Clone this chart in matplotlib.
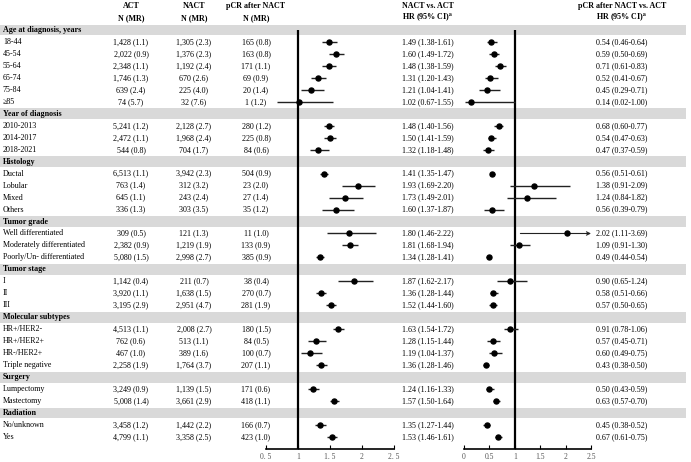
import matplotlib.pyplot as plt

plt.rcParams['font.family'] = ['Liberation Serif', 'DejaVu Serif']
plt.rcParams['mathtext.fontset'] = 'stix'

# ---- data ----
groups = ['Age at diagnosis, years', 'Year of diagnosis', 'Histology', 'Tumor grade',
          'Tumor stage', 'Molecular subtypes', 'Surgery', 'Radiation']
subgroups = [
    ['18-44', '45-54', '55-64', '65-74', '75-84', '\u226585'],
    ['2010-2013', '2014-2017', '2018-2021'],
    ['Ductal', 'Lobular', 'Mixed', 'Others'],
    ['Well differentiated', 'Moderately differentiated', 'Poorly/Un- differentiated'],
    ['I', 'II', 'III'],
    ['HR+/HER2-', 'HR+/HER2+', 'HR-/HER2+', 'Triple negative'],
    ['Lumpectomy', 'Mastectomy'],
    ['No/unknown', 'Yes'],
]

act_n = [1428, 2022, 2348, 1746, 639, 74, 5241, 2472, 544, 6513, 763, 645, 336,
         309, 2382, 5080, 1142, 3920, 3195, 4513, 762, 467, 2258, 3249, 5008, 3458, 4799]
act_mr = [1.1, 0.9, 1.1, 1.3, 2.4, 5.7, 1.2, 1.1, 0.8, 1.1, 1.4, 1.1, 1.3,
          0.5, 0.9, 1.5, 0.4, 1.1, 2.9, 1.1, 0.6, 1.0, 1.9, 0.9, 1.4, 1.2, 1.1]
nact_n = [1305, 1376, 1192, 670, 225, 32, 2128, 1968, 704, 3942, 312, 243, 303,
          121, 1219, 2998, 211, 1638, 2951, 2008, 513, 389, 1764, 1139, 3661, 1442, 3358]
nact_mr = [2.3, 2.3, 2.4, 2.6, 4.0, 7.6, 2.7, 2.4, 1.7, 2.3, 3.2, 2.4, 3.5,
           1.3, 1.9, 2.7, 0.7, 1.5, 4.7, 2.7, 1.1, 1.6, 3.7, 1.5, 2.9, 2.2, 2.5]
pcr_n = [165, 163, 171, 69, 20, 1, 280, 225, 84, 504, 23, 27, 35,
         11, 133, 385, 38, 270, 281, 180, 84, 100, 207, 171, 418, 166, 423]
pcr_mr = [0.8, 0.8, 1.1, 0.9, 1.4, 1.2, 1.2, 0.8, 0.6, 0.9, 2.0, 1.4, 1.2,
          1.0, 0.9, 0.9, 0.4, 0.7, 1.9, 1.5, 0.5, 0.7, 1.1, 0.6, 1.1, 0.7, 1.0]

hr1 = [1.49, 1.60, 1.48, 1.31, 1.21, 1.02, 1.48, 1.50, 1.32, 1.41, 1.93, 1.73, 1.60,
       1.80, 1.81, 1.34, 1.87, 1.36, 1.52, 1.63, 1.28, 1.19, 1.36, 1.24, 1.57, 1.35, 1.53]
lo1 = [1.38, 1.49, 1.38, 1.20, 1.04, 0.67, 1.40, 1.41, 1.18, 1.35, 1.69, 1.49, 1.37,
       1.46, 1.68, 1.28, 1.62, 1.28, 1.44, 1.54, 1.15, 1.04, 1.28, 1.16, 1.50, 1.27, 1.46]
hi1 = [1.61, 1.72, 1.59, 1.43, 1.41, 1.55, 1.56, 1.59, 1.48, 1.47, 2.20, 2.01, 1.87,
       2.22, 1.94, 1.41, 2.17, 1.44, 1.60, 1.72, 1.44, 1.37, 1.46, 1.33, 1.64, 1.44, 1.61]

hr2 = [0.54, 0.59, 0.71, 0.52, 0.45, 0.14, 0.68, 0.54, 0.47, 0.56, 1.38, 1.24, 0.56,
       2.02, 1.09, 0.49, 0.90, 0.58, 0.57, 0.91, 0.57, 0.60, 0.43, 0.50, 0.63, 0.45, 0.67]
lo2 = [0.46, 0.50, 0.61, 0.41, 0.29, 0.02, 0.60, 0.47, 0.37, 0.51, 0.91, 0.84, 0.39,
       1.11, 0.91, 0.44, 0.65, 0.51, 0.50, 0.78, 0.45, 0.49, 0.38, 0.43, 0.57, 0.38, 0.61]
hi2 = [0.64, 0.69, 0.83, 0.67, 0.71, 1.00, 0.77, 0.63, 0.59, 0.61, 2.09, 1.82, 0.79,
       3.69, 1.30, 0.54, 1.24, 0.66, 0.65, 1.06, 0.71, 0.75, 0.50, 0.59, 0.70, 0.52, 0.75]

ticks1 = [0.5, 1, 1.5, 2, 2.5]
ticklabels1 = ['0. 5', '1', '1. 5', '2', '2. 5']
ticks2 = [0, 0.5, 1, 1.5, 2, 2.5]
ticklabels2 = ['0', '0.5', '1', '1.5', '2', '2.5']

# ---- layout (pixels) ----
W, H = 691, 462
ROW0, STEP = 30.0, 11.97
FS = 5.8


def row_of(p):
    return (p - ROW0) / STEP


fig = plt.figure(figsize=(W / 100, H / 100), dpi=100)
axt = fig.add_axes([0, 0, 1, 1])
axt.set_xlim(0, W)
axt.set_ylim(row_of(H), row_of(0))
axt.axis('off')

col_x = {'act': 131, 'nact': 194, 'pcr': 256, 'hr1': 428, 'hr2': 622}

# header
axt.text(col_x['act'], -2, 'ACT', ha='center', va='center', fontsize=FS, fontweight='bold')
axt.text(col_x['nact'], -2, 'NACT', ha='center', va='center', fontsize=FS, fontweight='bold')
axt.text(col_x['pcr'], -2, 'pCR after NACT', ha='center', va='center', fontsize=FS, fontweight='bold')
axt.text(col_x['hr1'], -2, 'NACT vs. ACT', ha='center', va='center', fontsize=FS, fontweight='bold')
axt.text(col_x['hr2'], -2, 'pCR after NACT vs. ACT', ha='center', va='center', fontsize=FS, fontweight='bold')
for key in ['act', 'nact', 'pcr']:
    axt.text(col_x[key], -1, 'N (MR)', ha='center', va='center', fontsize=FS, fontweight='bold')
for key in ['hr1', 'hr2']:
    axt.text(col_x[key], -1, r'HR (95% CI)$^{\mathbf{a}}$', ha='center', va='center',
             fontsize=FS, fontweight='bold')

# rows
row = 0
item = 0
ys = []
for g, subs in zip(groups, subgroups):
    axt.axhspan(row - 0.45, row + 0.45, xmin=0, xmax=686 / W, color='#d9d9d9', lw=0, zorder=0)
    axt.text(3, row, g, ha='left', va='center', fontsize=FS, fontweight='bold')
    row += 1
    for s in subs:
        i = item
        axt.text(3, row, s, ha='left', va='center', fontsize=FS)
        axt.text(col_x['act'], row, f'{act_n[i]:,} ({act_mr[i]:.1f})', ha='center', va='center', fontsize=FS)
        axt.text(col_x['nact'], row, f'{nact_n[i]:,} ({nact_mr[i]:.1f})', ha='center', va='center', fontsize=FS)
        axt.text(col_x['pcr'], row, f'{pcr_n[i]:,} ({pcr_mr[i]:.1f})', ha='center', va='center', fontsize=FS)
        axt.text(col_x['hr1'], row, f'{hr1[i]:.2f} ({lo1[i]:.2f}-{hi1[i]:.2f})', ha='center', va='center', fontsize=FS)
        axt.text(col_x['hr2'], row, f'{hr2[i]:.2f} ({lo2[i]:.2f}-{hi2[i]:.2f})', ha='center', va='center', fontsize=FS)
        ys.append(row)
        row += 1
        item += 1

# ---- forest plots ----
top_px, bot_px = 24, 449


def forest(left_px, width_px, hr, lo, hi, xlim, ticks, labels):
    ax = fig.add_axes([left_px / W, (H - bot_px) / H, width_px / W, (bot_px - top_px) / H])
    ax.set_facecolor('none')
    ax.set_xlim(*xlim)
    ax.set_ylim(row_of(bot_px), row_of(top_px))
    ax.vlines(1, 0, row_of(bot_px), color='black', lw=1.6, zorder=2)
    for y, h, l, u in zip(ys, hr, lo, hi):
        if u > xlim[1]:
            ax.annotate('', xy=(xlim[1], y), xytext=(l, y),
                        arrowprops=dict(arrowstyle='->', lw=0.8, color='#222222',
                                        shrinkA=0, shrinkB=0, mutation_scale=6))
        else:
            ax.hlines(y, l, u, color='#222222', lw=1.0, zorder=3)
        ax.plot(h, y, 'o', color='black', ms=3.6, zorder=4)
    for s in ['left', 'right', 'top']:
        ax.spines[s].set_visible(False)
    ax.spines['bottom'].set_linewidth(1.2)
    ax.set_yticks([])
    ax.set_xticks(ticks)
    ax.set_xticklabels(labels)
    ax.tick_params(axis='x', direction='in', length=3, width=0.8, labelsize=5.5,
                   labelcolor='#555555', pad=3)
    return ax


forest(266, 128, hr1, lo1, hi1, (0.5, 2.5), ticks1, ticklabels1)
forest(464, 127, hr2, lo2, hi2, (0, 2.5), ticks2, ticklabels2)

plt.savefig('out.png', dpi=100)
